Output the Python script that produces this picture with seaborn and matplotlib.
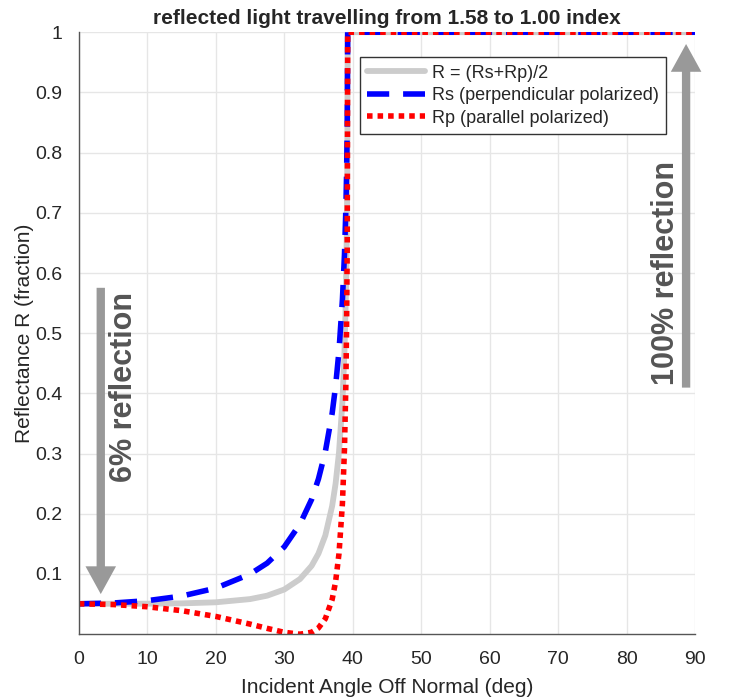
import numpy as np
import pandas as pd
import seaborn as sns
import matplotlib.pyplot as plt

# values
angle = [0, 5, 10, 15, 20, 25, 27.5, 30, 32.3, 34, 35, 36, 37, 37.5, 38,
         38.5, 38.8, 39, 39.1, 39.2, 39.27, 40, 50, 60, 70, 80, 90]
r_s = [0.0505, 0.0518, 0.0557, 0.0633, 0.0765, 0.0998, 0.118, 0.145, 0.183,
       0.224, 0.258, 0.303, 0.367, 0.412, 0.471, 0.556, 0.631, 0.706, 0.761,
       0.839, 1.0, 1.0, 1.0, 1.0, 1.0, 1.0, 1.0]
r_p = [0.0505, 0.0493, 0.0456, 0.0391, 0.0295, 0.0168, 0.0097, 0.0031, 0.0,
       0.0032, 0.0104, 0.0256, 0.0578, 0.0871, 0.134, 0.217, 0.308, 0.414,
       0.503, 0.644, 1.0, 1.0, 1.0, 1.0, 1.0, 1.0, 1.0]
r_avg = [0.0505, 0.0506, 0.0507, 0.0512, 0.053, 0.0583, 0.064, 0.0742, 0.0916,
         0.1136, 0.134, 0.164, 0.213, 0.250, 0.302, 0.386, 0.470, 0.560,
         0.632, 0.742, 1.0, 1.0, 1.0, 1.0, 1.0, 1.0, 1.0]

labels = ["R = (Rs+Rp)/2", "Rs (perpendicular polarized)", "Rp (parallel polarized)"]
xticks = list(range(0, 91, 10))
yticks = [0.1, 0.2, 0.3, 0.4, 0.5, 0.6, 0.7, 0.8, 0.9, 1]
ytick_labels = ["0.1", "0.2", "0.3", "0.4", "0.5", "0.6", "0.7", "0.8", "0.9", "1"]

sns.set_style("whitegrid")
plt.rcParams['font.family'] = ['Liberation Sans', 'DejaVu Sans']
plt.rcParams['xtick.major.pad'] = 12
plt.rcParams['ytick.major.pad'] = 12
plt.rcParams['xtick.direction'] = 'in'
plt.rcParams['ytick.direction'] = 'in'

df = pd.DataFrame({"angle": angle, "avg": r_avg, "rs": r_s, "rp": r_p})

fig = plt.figure(figsize=(7.37, 7.0), dpi=100)
ax = fig.add_axes([0.107, 0.094, 0.836, 0.860])

sns.lineplot(data=df, x="angle", y="avg", ax=ax, color=(0.8, 0.8, 0.8),
             lw=4.2, label=labels[0], estimator=None, sort=False)
sns.lineplot(data=df, x="angle", y="rs", ax=ax, color="#0000ff",
             lw=4.0, label=labels[1], estimator=None, sort=False,
             dashes=False, linestyle=(0, (4.0, 2.5)))
sns.lineplot(data=df, x="angle", y="rp", ax=ax, color="#ff0000",
             lw=4.0, label=labels[2], estimator=None, sort=False,
             linestyle=(0, (1.0, 0.9)))

ax.set_xlim(0, 90)
ax.set_ylim(0, 1)
ax.set_xticks(xticks)
ax.set_yticks(yticks)
ax.set_yticklabels(ytick_labels)
ax.tick_params(labelsize=14, colors="#262626", length=4)
ax.grid(True, color="#e6e6e6", lw=1)
for s in ["top", "right"]:
    ax.spines[s].set_visible(False)
for s in ["left", "bottom"]:
    ax.spines[s].set_color("#555555")
    ax.spines[s].set_linewidth(1)

ax.set_xlabel("Incident Angle Off Normal (deg)", fontsize=15, color="#262626",
              labelpad=7)
ax.set_ylabel("Reflectance R (fraction)", fontsize=15, color="#262626",
              labelpad=1)
ax.set_title("reflected light travelling from 1.58 to 1.00 index",
             fontsize=15, fontweight="bold", pad=6)

leg = ax.legend(loc="upper right", bbox_to_anchor=(0.968, 0.973), fontsize=13,
                frameon=True, fancybox=False, handlelength=3.2,
                borderpad=0.4, labelspacing=0.3, handletextpad=0.4)
leg.get_frame().set_edgecolor("#333333")
leg.get_frame().set_linewidth(1)
leg.get_frame().set_alpha(1)

arrow_kw = dict(arrowstyle="simple,head_width=2.2,head_length=2.0,tail_width=0.6",
                color="#999999", lw=0)
ax.annotate("", xy=(3.2, 0.062), xytext=(3.2, 0.58), arrowprops=arrow_kw)
ax.annotate("", xy=(88.7, 0.985), xytext=(88.7, 0.405), arrowprops=arrow_kw)
ax.text(6.6, 0.41, "6% reflection", rotation=90, ha="center", va="center",
        fontsize=22, fontweight="bold", color="#555555")
ax.text(85.8, 0.60, "100% reflection", rotation=90, ha="center", va="center",
        fontsize=22, fontweight="bold", color="#555555")

fig.savefig("out.png", dpi=100)
